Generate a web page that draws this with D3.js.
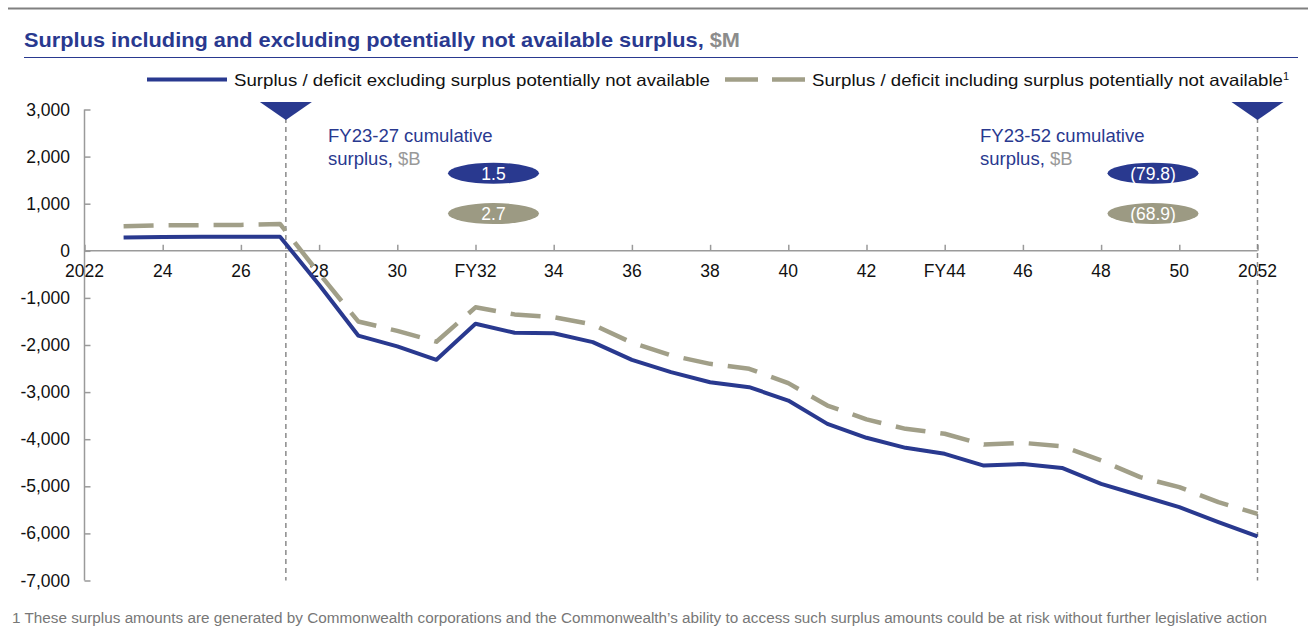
<!DOCTYPE html>
<html>
<head>
<meta charset="utf-8">
<script src="https://cdn.jsdelivr.net/npm/d3@7"></script>
<style>
  html, body { margin: 0; padding: 0; background: #fff; }
  svg { display: block; font-family: "Liberation Sans", Arial, sans-serif; }
</style>
</head>
<body>
<svg id="chart" width="1308" height="639"></svg>
<script>
// Fiscal years shown on the projection
const years = d3.range(2023, 2053);

// Annual surplus / deficit, $M
const excludingSeries = [280, 295, 300, 300, 300, -720, -1800, -2030, -2315, -1550,
  -1740, -1750, -1940, -2315, -2577, -2790, -2895, -3180, -3675, -3970,
  -4183, -4310, -4560, -4525, -4610, -4950, -5195, -5443, -5760, -6065];
const includingSeries = [520, 540, 545, 550, 570, -480, -1500, -1700, -1930, -1200,
  -1350, -1410, -1565, -1950, -2220, -2400, -2505, -2810, -3285, -3580,
  -3780, -3885, -4115, -4078, -4150, -4452, -4806, -5018, -5337, -5585];

const seriesNames = [
  "Surplus / deficit excluding surplus potentially not available",
  "Surplus / deficit including surplus potentially not available"
];

// x-axis tick positions and their labels
const xTickYears = d3.range(2022, 2053, 2);
const xTickLabels = ["2022", "24", "26", "28", "30", "FY32", "34", "36", "38", "40",
  "42", "FY44", "46", "48", "50", "2052"];
const yTicks = [3000, 2000, 1000, 0, -1000, -2000, -3000, -4000, -5000, -6000, -7000];

// Cumulative-surplus callouts ($B)
const callouts = [
  { year: 2027.15, title: "FY23-27 cumulative", values: ["1.5", "2.7"] },
  { year: 2052, title: "FY23-52 cumulative", values: ["(79.8)", "(68.9)"] }
];

const BLUE = "#29398F";
const OLIVE = "#A19F88";
const OLIVE_FILL = "#9C9A83";
const AXIS = "#9A9A9A";

const svg = d3.select("#chart");

const x = d3.scaleLinear().domain([2022, 2052]).range([84.5, 1257.5]);
const y = d3.scaleLinear().domain([3000, -7000]).range([109.5, 580.5]);

// Header rule and title
svg.append("line").attr("x1", 8).attr("x2", 1308).attr("y1", 8.5).attr("y2", 8.5)
  .attr("stroke", "#808080").attr("stroke-width", 2);

const title = svg.append("text").attr("x", 24).attr("y", 47)
  .attr("font-size", 21).attr("font-weight", "bold")
  .attr("textLength", 716).attr("lengthAdjust", "spacingAndGlyphs");
title.append("tspan").attr("fill", BLUE).text("Surplus including and excluding potentially not available surplus, ");
title.append("tspan").attr("fill", "#8C8C8C").text("$M");

svg.append("line").attr("x1", 24).attr("x2", 1298).attr("y1", 57.5).attr("y2", 57.5)
  .attr("stroke", BLUE).attr("stroke-width", 1);

// Legend
const legend = svg.append("g").attr("font-size", 16.5).attr("fill", "#111");
legend.append("line").attr("x1", 147).attr("x2", 227).attr("y1", 79.5).attr("y2", 79.5)
  .attr("stroke", BLUE).attr("stroke-width", 4);
legend.append("text").attr("x", 234).attr("y", 86).text(seriesNames[0])
  .attr("textLength", 476).attr("lengthAdjust", "spacingAndGlyphs");
legend.append("line").attr("x1", 725).attr("x2", 805).attr("y1", 79.5).attr("y2", 79.5)
  .attr("stroke", OLIVE).attr("stroke-width", 4.5).attr("stroke-dasharray", "33,14");
const lt = legend.append("text").attr("x", 812).attr("y", 86);
lt.append("tspan").text(seriesNames[1]).attr("textLength", 471).attr("lengthAdjust", "spacingAndGlyphs");
lt.append("tspan").attr("font-size", 11).attr("dy", -6).text("1");

// Y axis
const yAxis = d3.axisRight(y).tickValues(yTicks).tickSize(6).tickFormat("");
const gy = svg.append("g").attr("transform", `translate(${x(2022)},0)`).call(yAxis);
gy.selectAll("path, line").attr("stroke", AXIS).attr("stroke-width", 1.5);
gy.select("path").attr("d", `M0,${y(3000)}V${y(-7000)}`);
const commaFmt = d3.format(",");
svg.append("g").attr("font-size", 17.5).attr("fill", "#111").attr("text-anchor", "end")
  .selectAll("text").data(yTicks).join("text")
  .attr("x", 70).attr("y", d => y(d) + 6)
  .text(d => commaFmt(d).replace("\u2212", "-"));

// X axis along zero
const xAxis = d3.axisTop(x).tickValues(xTickYears).tickSize(6).tickFormat("");
const gx = svg.append("g").attr("transform", `translate(0,${y(0)})`).call(xAxis);
gx.selectAll("path, line").attr("stroke", AXIS).attr("stroke-width", 1.5);
gx.select("path").attr("d", `M${x(2022)},0H${x(2052)}`);
svg.append("g").attr("font-size", 17.5).attr("fill", "#111").attr("text-anchor", "middle")
  .selectAll("text").data(xTickYears).join("text")
  .attr("x", d => x(d)).attr("y", y(0) + 26)
  .text((d, i) => xTickLabels[i]);

// Period markers
const markers = svg.append("g");
callouts.forEach(c => {
  const cx = x(c.year);
  markers.append("line").attr("x1", cx).attr("x2", cx).attr("y1", 118).attr("y2", y(-7000))
    .attr("stroke", "#8A8A8A").attr("stroke-width", 1.5).attr("stroke-dasharray", "5,4");
  markers.append("path").attr("d", `M${cx - 26},102L${cx + 26},102L${cx},120Z`).attr("fill", BLUE);
});

// Series lines
const line = d3.line().x((d, i) => x(years[i])).y(d => y(d));
svg.append("path").datum(includingSeries).attr("d", line)
  .attr("fill", "none").attr("stroke", OLIVE).attr("stroke-width", 4.5)
  .attr("stroke-dasharray", "30,15").attr("stroke-linejoin", "round");
svg.append("path").datum(excludingSeries).attr("d", line)
  .attr("fill", "none").attr("stroke", BLUE).attr("stroke-width", 4)
  .attr("stroke-linejoin", "round");

// Cumulative callouts
const calloutPos = [
  { tx: 328, ex: 493.5 },
  { tx: 980, ex: 1153 }
];
callouts.forEach((c, i) => {
  const p = calloutPos[i];
  const g = svg.append("g");
  g.append("text").attr("x", p.tx).attr("y", 142).attr("font-size", 18.5).attr("fill", BLUE).text(c.title);
  const t2 = g.append("text").attr("x", p.tx).attr("y", 165).attr("font-size", 18.5);
  t2.append("tspan").attr("fill", BLUE).text("surplus, ");
  t2.append("tspan").attr("fill", "#999").text("$B");
  [BLUE, OLIVE_FILL].forEach((col, k) => {
    const cy = 173.3 + k * 40.3;
    g.append("ellipse").attr("cx", p.ex).attr("cy", cy).attr("rx", 45.5).attr("ry", 10.5).attr("fill", col);
    g.append("text").attr("x", p.ex).attr("y", cy + 6.3).attr("font-size", 17.5).attr("fill", "#fff")
      .attr("text-anchor", "middle").text(c.values[k]);
  });
});

// Footnote
svg.append("text").attr("x", 12).attr("y", 623).attr("font-size", 14).attr("fill", "#777")
  .attr("textLength", 1255).attr("lengthAdjust", "spacingAndGlyphs")
  .text("1  These surplus amounts are generated by Commonwealth corporations and the Commonwealth\u2019s ability to access such surplus amounts could be at risk without further legislative action");
</script>
</body>
</html>
